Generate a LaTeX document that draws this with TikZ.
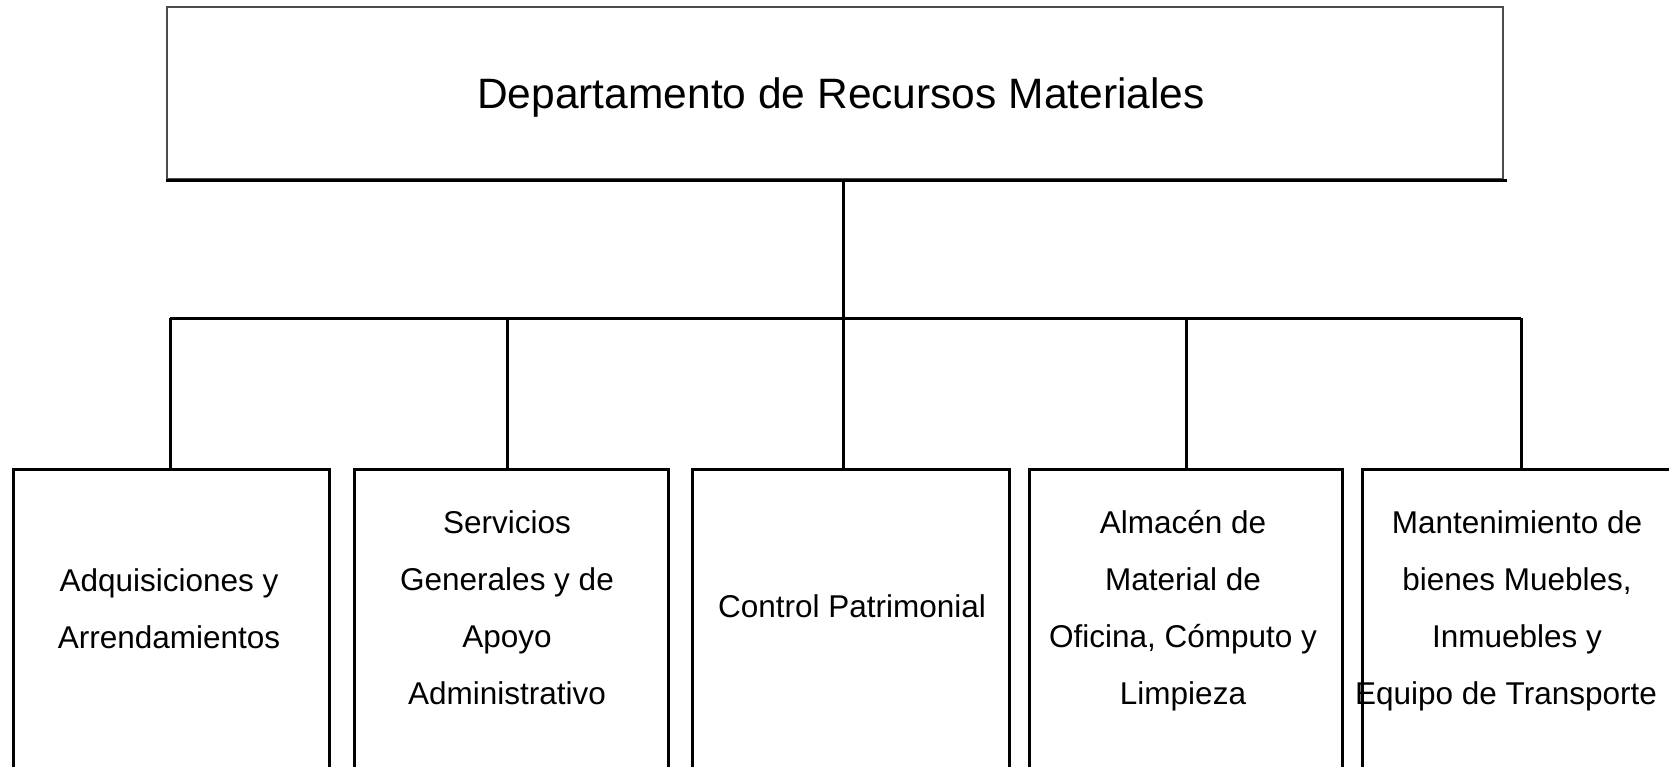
\documentclass[tikz,border=0pt]{standalone}
\usepackage{fontspec}
\setmainfont{Liberation Sans}
\begin{document}
\begin{tikzpicture}[x=1pt,y=-1pt,
  topbox/.style={draw=black!70, line width=2pt, inner sep=0pt},
  unitbox/.style={draw=black, line width=3pt, inner sep=0pt, anchor=north west, minimum height=400pt},
  lbl/.style={align=center, font=\fontsize{31.5}{57}\selectfont, inner sep=0pt, anchor=base},
  link/.style={line width=3pt, draw=black}]
\clip (0,0) rectangle (1669,766);
\fill[white] (0,0) rectangle (1669,766);
% top box
\node[topbox, minimum width=1336pt, minimum height=172pt, anchor=north west] (dep) at (166,6) {};
\node[font=\fontsize{42.5}{50}\selectfont, anchor=base, inner sep=0pt] (deplbl) at (841,108) {Departamento de Recursos Materiales};
\draw[line width=3pt] (dep.south west) -- ([xshift=3pt]dep.south east);
% unit boxes
\node[unitbox, minimum width=316pt] (b1) at (12,468) {};
\node[unitbox, minimum width=314pt] (b2) at (353,468) {};
\node[unitbox, minimum width=317pt] (b3) at (691,468) {};
\node[unitbox, minimum width=313pt] (b4) at (1028,468) {};
\node[unitbox, minimum width=317pt] (b5) at (1361,468) {};
% labels
\node[lbl] (t1) at (169,648) {Adquisiciones y\\Arrendamientos};
\node[lbl] (t2) at (507,704) {Servicios\\Generales y de\\Apoyo\\Administrativo};
\node[lbl] (t3) at (852,617) {Control Patrimonial};
\node[lbl] (t4) at (1183,704) {Almacén de\\Material de\\Oficina, Cómputo y\\Limpieza};
\node[lbl] (t5) at (1517,704) {Mantenimiento de\\bienes Muebles,\\Inmuebles y\\\hspace*{-22pt}Equipo de Transporte};
% connectors
\coordinate (j1) at (170,318);
\coordinate (j2) at (507,318);
\coordinate (j3) at (843,318);
\coordinate (j4) at (1186,318);
\coordinate (j5) at (1521,318);
\draw[link] (j3 |- dep.south) -- (j3);
\draw[link] (j1) -- (j5);
\draw[link] (j1) -- (j1 |- b1.north);
\draw[link] (j2) -- (j2 |- b2.north);
\draw[link] (j3) -- (j3 |- b3.north);
\draw[link] (j4) -- (j4 |- b4.north);
\draw[link] (j5) -- (j5 |- b5.north);
\end{tikzpicture}
\end{document}
